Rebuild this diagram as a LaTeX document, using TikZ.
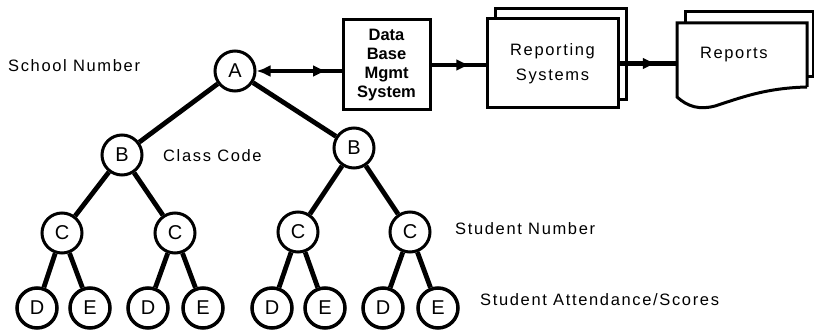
\documentclass[tikz,border=0pt]{standalone}
\usepackage{fontspec}
\setmainfont{Liberation Sans}
\newfontfamily\lblfont{Liberation Sans}[LetterSpace=10]
\usetikzlibrary{arrows.meta,decorations.markings}

\begin{document}
\begin{tikzpicture}[x=1pt,y=-1pt,
		every node/.style={font=\lblfont\fontsize{16.5}{20}\selectfont},
		circ/.style={circle,draw,line width=3pt,minimum size=40pt,inner sep=0pt,font=\fontsize{20}{20}\selectfont},
		leaf/.style={circ,line width=3.5pt},
		lbl/.style={anchor=west,inner sep=0pt},
		tree/.style={line width=4.8pt},
		box/.style={draw,line width=3pt},
		conn/.style={line width=4.5pt},
		midtip/.style={postaction={decorate},decoration={markings,mark=at position #1 with {\arrow{Latex[length=14pt,width=12pt]}}}}]
		\useasboundingbox (0,0) rectangle (814,334);
		\node[circ] (a) at (235,71) {A};
		\node[circ] (b1) at (122,155) {B};
		\node[circ] (b2) at (354,148) {B};
		\node[circ] (c1) at (62,233) {C};
		\node[circ] (c2) at (175,233) {C};
		\node[circ] (c3) at (298,232) {C};
		\node[circ] (c4) at (410,232) {C};
		\node[leaf] (d1) at (37,308) {D};
		\node[leaf] (e1) at (90,308) {E};
		\node[leaf] (d2) at (148,308) {D};
		\node[leaf] (e2) at (203,308) {E};
		\node[leaf] (d3) at (272,308) {D};
		\node[leaf] (e3) at (325,308) {E};
		\node[leaf] (d4) at (383,308) {D};
		\node[leaf] (e4) at (438,308) {E};
		\draw[tree] (a) -- (b1);
		\draw[tree] (a) -- (b2);
		\draw[tree] (b1) -- (c1);
		\draw[tree] (b1) -- (c2);
		\draw[tree] (b2) -- (c3);
		\draw[tree] (b2) -- (c4);
		\draw[tree] (c1) -- (d1);
		\draw[tree] (c1) -- (e1);
		\draw[tree] (c2) -- (d2);
		\draw[tree] (c2) -- (e2);
		\draw[tree] (c3) -- (d3);
		\draw[tree] (c3) -- (e3);
		\draw[tree] (c4) -- (d4);
		\draw[tree] (c4) -- (e4);
		\node[lbl] (school) at (8,66) {School Number};
		\node[lbl] (class) at (163,156) {Class Code};
		\node[lbl] (stnum) at (455,229) {Student Number};
		\node[lbl] (stscore) at (480,300) {Student Attendance/Scores};
		\node[box,minimum width=87pt,minimum height=90pt,align=center,font=\bfseries\fontsize{16.5}{19}\selectfont] (dbms) at (386.5,65) {Data\\Base\\Mgmt\\System};
		\draw[box] (495,19) -- (495,9) -- (626,9) -- (626,100) -- (618,100);
		\node[box,minimum width=131pt,minimum height=89pt,align=center,font=\lblfont\fontsize{16.5}{25}\selectfont] (rs) at (552.5,63.5) {Reporting\\Systems};
		\draw[box] (685,23) -- (685,12) -- (813,12) -- (813,77) -- (807,77);
		\node[minimum width=130pt,minimum height=64pt,text width=84pt,inner xsep=23pt,align=left] (rep) at (742,55) {Reports};
		\draw[box] (807,87) -- (807,23) -- (677,23) -- (677,97) .. controls (688,107) and (700,110) .. (715,106) .. controls (740,98) and (765,88) .. (807,87);
		\draw[conn,{Latex[length=14pt,width=12pt]}-,midtip=0.83] (a.east) -- (a.east -| dbms.west);
		\draw[conn,midtip=0.72] (dbms.east) -- (dbms.east -| rs.west);
		\draw[conn,midtip=0.65] (rs.east) -- (rs.east -| rep.west);
	\end{tikzpicture}
\end{document}
